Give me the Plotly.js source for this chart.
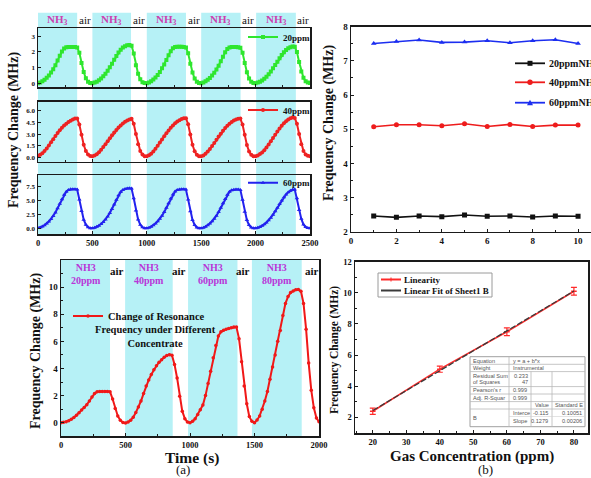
<!DOCTYPE html>
<html><head><meta charset="utf-8">
<script src="https://cdn.plot.ly/plotly-3.0.1.min.js"></script>
<style>html,body{margin:0;padding:0;background:#fff;overflow:hidden}#c{width:591px;height:478px}</style>
</head><body><div id="c"></div>
<script>
// ---------------- DATA ----------------
// Top-left: repeated NH3 exposure, time (s)
const tTop = [
0,20,40,60,80,100,120,140,160,180,200,220,240,260,280,300,320,340,360,380,400,420,440,460,480,
500,520,540,560,580,600,620,640,660,680,700,720,740,760,780,800,820,840,860,880,900,920,940,960,980,
1000,1020,1040,1060,1080,1100,1120,1140,1160,1180,1200,1220,1240,1260,1280,1300,1320,1340,1360,1380,1400,1420,1440,1460,1480,
1500,1520,1540,1560,1580,1600,1620,1640,1660,1680,1700,1720,1740,1760,1780,1800,1820,1840,1860,1880,1900,1920,1940,1960,1980,
2000,2020,2040,2060,2080,2100,2120,2140,2160,2180,2200,2220,2240,2260,2280,2300,2320,2340,2360,2380,2400,2420,2440,2460,2480,
2500];
const f20ppm = [
0.00,0.05,0.12,0.22,0.35,0.50,0.68,0.90,1.15,1.45,1.75,2.02,2.22,2.30,2.32,2.32,2.32,2.31,2.28,1.95,1.30,0.72,0.32,0.10,0.02,
0.00,0.04,0.10,0.19,0.30,0.44,0.60,0.80,1.02,1.25,1.50,1.74,1.96,2.14,2.28,2.37,2.42,2.44,2.40,1.90,1.15,0.60,0.25,0.07,0.01,
0.00,0.05,0.13,0.24,0.37,0.53,0.72,0.95,1.20,1.48,1.78,2.05,2.24,2.31,2.33,2.33,2.33,2.32,2.28,1.92,1.25,0.68,0.30,0.09,0.02,
0.00,0.05,0.12,0.22,0.34,0.49,0.67,0.88,1.12,1.40,1.70,1.98,2.19,2.29,2.31,2.31,2.31,2.30,2.27,1.95,1.30,0.70,0.31,0.10,0.02,
0.00,0.04,0.10,0.18,0.29,0.42,0.57,0.75,0.95,1.16,1.38,1.60,1.80,1.98,2.12,2.23,2.30,2.34,2.33,2.00,1.35,0.75,0.35,0.12,0.04,
0.01];
const f40ppm = [
0.25,0.38,0.58,0.85,1.18,1.55,1.95,2.35,2.75,3.12,3.48,3.80,4.08,4.32,4.52,4.70,4.85,4.96,4.98,4.20,2.90,1.65,0.85,0.40,0.22,
0.18,0.28,0.45,0.70,1.00,1.35,1.72,2.10,2.48,2.85,3.20,3.53,3.83,4.10,4.34,4.55,4.72,4.86,4.95,4.30,3.00,1.70,0.85,0.40,0.20,
0.20,0.32,0.52,0.80,1.14,1.52,1.92,2.32,2.72,3.10,3.46,3.80,4.10,4.36,4.58,4.76,4.90,4.99,5.00,4.25,2.95,1.65,0.82,0.38,0.20,
0.18,0.30,0.50,0.78,1.10,1.48,1.88,2.28,2.68,3.05,3.42,3.76,4.06,4.32,4.54,4.72,4.86,4.95,4.96,4.20,2.90,1.62,0.80,0.38,0.20,
0.20,0.30,0.46,0.68,0.96,1.30,1.68,2.08,2.50,2.92,3.32,3.70,4.05,4.36,4.62,4.84,5.00,5.10,5.05,4.30,3.00,1.70,0.85,0.42,0.25,
0.18];
const f60ppm = [
0.05,0.15,0.32,0.55,0.85,1.22,1.68,2.22,2.85,3.60,4.40,5.25,6.05,6.60,6.90,7.02,7.05,7.05,7.00,5.20,3.10,1.55,0.65,0.20,0.02,
0.00,0.10,0.26,0.48,0.78,1.15,1.60,2.12,2.75,3.48,4.30,5.15,5.95,6.55,6.92,7.10,7.18,7.20,7.15,5.40,3.20,1.60,0.65,0.18,0.00,
0.00,0.12,0.30,0.54,0.86,1.25,1.72,2.28,2.94,3.70,4.52,5.35,6.10,6.62,6.90,7.00,7.03,7.03,6.98,5.20,3.05,1.50,0.60,0.16,0.00,
0.00,0.12,0.30,0.54,0.86,1.25,1.72,2.28,2.94,3.70,4.50,5.30,6.05,6.58,6.85,6.95,6.97,6.97,6.92,5.15,3.00,1.48,0.58,0.15,0.00,
0.00,0.10,0.25,0.45,0.72,1.05,1.45,1.92,2.46,3.06,3.70,4.36,5.00,5.58,6.08,6.48,6.78,6.95,6.98,5.40,3.30,1.70,0.70,0.22,0.05,
0.02];
const topBandStart = [0,500,1000,1500,2005];
const topBandEnd   = [360,855,1360,1862,2370];
const topGasX = [180,678,1180,1681,2188];
const topAirX = [430,928,1430,1931,2435];
const topTicks = [0,500,1000,1500,2000,2500];

// Top-right: stability over days
const days = [1,2,3,4,5,6,7,8,9,10];
const st20 = [2.46,2.42,2.46,2.44,2.49,2.45,2.46,2.43,2.46,2.45];
const st40 = [5.07,5.13,5.13,5.10,5.16,5.08,5.14,5.08,5.12,5.12];
const st60 = [7.51,7.57,7.61,7.54,7.55,7.59,7.53,7.59,7.62,7.51];
const stNames = ['20ppmNH3','40ppmNH3','60ppmNH3'];

// Bottom-left (a): different concentrations
const tA = [
0,20,40,60,80,100,120,140,160,180,200,220,240,260,280,300,320,340,360,380,400,420,440,460,480,
500,520,540,560,580,600,620,640,660,680,700,720,740,760,780,800,820,840,860,880,900,920,940,960,980,
1000,1020,1040,1060,1080,1100,1120,1140,1160,1180,1200,1220,1240,1260,1280,1300,1320,1340,1360,1380,1400,1420,1440,1460,1480,
1500,1520,1540,1560,1580,1600,1620,1640,1660,1680,1700,1720,1740,1760,1780,1800,1820,1840,1860,1880,1900,1920,1940,1960,1980,
2000];
const fA = [
0.00,0.03,0.08,0.15,0.25,0.38,0.55,0.73,0.93,1.13,1.33,1.60,1.90,2.15,2.28,2.30,2.31,2.31,2.30,2.28,1.75,1.05,0.50,0.18,0.02,
-0.02,0.05,0.18,0.40,0.75,1.15,1.60,2.15,2.70,3.15,3.55,3.90,4.20,4.45,4.65,4.82,4.95,5.02,4.98,4.30,3.30,1.95,0.85,0.30,0.05,
0.00,0.10,0.30,0.60,0.95,1.30,2.00,2.90,3.80,4.80,5.70,6.40,6.70,6.82,6.90,6.95,7.00,7.05,7.05,6.20,4.50,2.70,1.40,0.45,0.10,
0.00,0.20,0.50,1.00,1.60,2.30,3.20,4.10,5.00,6.00,6.80,7.90,8.80,9.30,9.60,9.72,9.80,9.82,9.70,8.80,6.90,4.40,2.40,1.10,0.35,
0.08];
const aBandStart = [0,497,985,1480];
const aBandEnd   = [380,866,1368,1866];
const aGasLabels = ['NH3<br>20ppm','NH3<br>40ppm','NH3<br>60ppm','NH3<br>80ppm'];
const aAirX = [432,915,1413,1943];

// Bottom-right (b): linearity
const conc = [20,40,60,80];
const linY = [2.40,5.10,7.50,10.10];
const linErr = [0.20,0.20,0.25,0.25];
const fitX = [20,80];
const fitY = [2.443,10.117];

// ---------------- LAYOUT HELPERS ----------------
const W=591,H=478;
const X = p => p/W, Y = p => 1 - p/H;
const SERIF = 'Liberation Serif, Times New Roman, serif';
const SANS = 'Liberation Sans, Arial, sans-serif';
const CYAN = '#b6f1f6';
const MAG = '#cc3fb0';
const PURP = '#b936d8';
const bf = (s)=>({family:SERIF,size:s,color:'#111',weight:'bold'});

function ax(o){
  return Object.assign({showgrid:false,zeroline:false,showline:true,linecolor:'#1a1a1a',linewidth:1.5,
    mirror:true,ticks:'inside',ticklen:3,tickwidth:1,tickcolor:'#1a1a1a',fixedrange:true},o);
}

const traces = [];
traces.push({x:tTop,y:f20ppm,xaxis:'x',yaxis:'y',name:'20ppm',legend:'legend',mode:'lines+markers',
  line:{color:'#2ee62e',width:2},marker:{color:'#2ee62e',size:4,symbol:'square'}});
traces.push({x:tTop,y:f40ppm,xaxis:'x2',yaxis:'y2',name:'40ppm',legend:'legend2',mode:'lines+markers',
  line:{color:'#ee2222',width:2},marker:{color:'#ee2222',size:4,symbol:'circle'}});
traces.push({x:tTop,y:f60ppm,xaxis:'x3',yaxis:'y3',name:'60ppm',legend:'legend3',mode:'lines+markers',
  line:{color:'#2222ee',width:2},marker:{color:'#2222ee',size:4,symbol:'triangle-up'}});

const stCol = ['#111111','#ee1c1c','#1c2ef0'];
const stSym = ['square','circle','triangle-up'];
[st20,st40,st60].forEach((s,i)=>traces.push({x:days,y:s,xaxis:'x4',yaxis:'y4',name:stNames[i],showlegend:false,
  mode:'lines+markers',line:{color:stCol[i],width:1.6},marker:{color:stCol[i],size:5,symbol:stSym[i]}}));

traces.push({x:tA,y:fA,xaxis:'x5',yaxis:'y5',name:'Change of Resonance',legend:'legend5',mode:'lines+markers',
  line:{color:'#f01818',width:2},marker:{color:'#f01818',size:3.5,symbol:'circle'}});

traces.push({x:conc,y:linY,xaxis:'x6',yaxis:'y6',name:'Linearity',showlegend:false,mode:'lines+markers',
  line:{color:'#ff2a2a',width:1.6},marker:{color:'#ff2a2a',size:4,symbol:'line-ew-open',line:{width:1.5,color:'#ff2a2a'}},
  error_y:{type:'data',array:linErr,visible:true,color:'#ff2a2a',thickness:1.2,width:3}});
traces.push({x:fitX,y:fitY,xaxis:'x6',yaxis:'y6',name:'Linear Fit of Sheet1 B',showlegend:false,mode:'lines',
  line:{color:'#3a3a3a',width:1.3,dash:'6px,2px'}});

const shapes = [];
topBandStart.forEach((s,i)=>shapes.push({type:'rect',xref:'x',yref:'paper',x0:s,x1:topBandEnd[i],y0:Y(234.3),y1:Y(12.7),
  fillcolor:CYAN,line:{width:0},layer:'below'}));
aBandStart.forEach((s,i)=>shapes.push({type:'rect',xref:'x5',yref:'y5 domain',x0:s,x1:aBandEnd[i],y0:0,y1:1,
  fillcolor:CYAN,line:{width:0},layer:'below'}));

const ann = [];
function A(o){ann.push(Object.assign({xref:'paper',yref:'paper',showarrow:false,xanchor:'center',yanchor:'middle'},o));}

// header labels top-left
topGasX.forEach(x=>ann.push({xref:'x',yref:'paper',x:x,y:Y(20),text:'NH<sub>3</sub>',showarrow:false,xanchor:'center',yanchor:'middle',
  font:{family:SERIF,size:11,color:MAG,weight:'bold'}}));
topAirX.forEach(x=>ann.push({xref:'x',yref:'paper',x:x,y:Y(20),text:'air',showarrow:false,xanchor:'center',yanchor:'middle',
  font:{family:SERIF,size:11,color:'#111'}}));
// header labels (a)
aBandStart.forEach((s,i)=>ann.push({xref:'x5',yref:'paper',x:(s+aBandEnd[i])/2,y:Y(273.5),text:aGasLabels[i],showarrow:false,
  xanchor:'center',yanchor:'middle',font:{family:SERIF,size:10,color:PURP,weight:'bold'}}));
aAirX.forEach(x=>ann.push({xref:'x5',yref:'paper',x:x,y:Y(271),text:'air',showarrow:false,xanchor:'center',yanchor:'middle',
  font:{family:SERIF,size:11,color:'#111',weight:'bold'}}));

// titles
A({x:X(14),y:Y(130),text:'Frequency Change (MHz)',textangle:-90,font:bf(14)});
A({x:X(329),y:Y(123),text:'Frequency Change (MHz)',textangle:-90,font:bf(14)});
A({x:X(36),y:Y(351),text:'Frequency Change (MHz)',textangle:-90,font:bf(14)});
A({x:X(334),y:Y(350),text:'Frequency Change (MHz)',textangle:-90,font:bf(11.5)});
A({x:X(192),y:Y(458),text:'Time (s)',font:bf(15.5)});
A({x:X(183),y:Y(469.5),text:'(a)',font:{family:SERIF,size:13,color:'#111'}});
A({x:X(472),y:Y(456),text:'Gas Concentration (ppm)',font:bf(15)});
A({x:X(485),y:Y(469.5),text:'(b)',font:{family:SERIF,size:13,color:'#111'}});
// (a) legend continuation
A({x:X(155),y:Y(336.5),text:'Frequency under Different<br>Concentrate',align:'center',font:bf(10.5)});

// top-right legend (manual; cut by the right edge as in the reference)
const legRows = [63.3,82.3,102.7];
legRows.forEach((yy,i)=>{
  shapes.push({type:'line',xref:'paper',yref:'paper',x0:X(515),x1:X(545),y0:Y(yy),y1:Y(yy),line:{color:stCol[i],width:1.8}});
  A({x:X(547),y:Y(yy),xanchor:'left',text:stNames[i],font:bf(10)});
});
shapes.push({type:'rect',xref:'paper',yref:'paper',x0:X(527.5),x1:X(532.5),y0:Y(legRows[0]+2.5),y1:Y(legRows[0]-2.5),fillcolor:stCol[0],line:{width:0}});
shapes.push({type:'circle',xref:'paper',yref:'paper',x0:X(527.3),x1:X(532.7),y0:Y(legRows[1]+2.7),y1:Y(legRows[1]-2.7),fillcolor:stCol[1],line:{width:0}});
shapes.push({type:'path',xref:'paper',yref:'paper',
  path:`M ${X(527)} ${Y(legRows[2]+2.5)} L ${X(533)} ${Y(legRows[2]+2.5)} L ${X(530)} ${Y(legRows[2]-3)} Z`,fillcolor:stCol[2],line:{width:0}});

// (b) legend (manual box)
shapes.push({type:'rect',xref:'paper',yref:'paper',x0:X(378),x1:X(492),y0:Y(297),y1:Y(273),line:{color:'#9a9a9a',width:1},fillcolor:'rgba(255,255,255,0.6)'});
shapes.push({type:'line',xref:'paper',yref:'paper',x0:X(381),x1:X(401),y0:Y(279.5),y1:Y(279.5),line:{color:'#ff2a2a',width:2}});
shapes.push({type:'line',xref:'paper',yref:'paper',x0:X(391),x1:X(391),y0:Y(277.5),y1:Y(281.5),line:{color:'#ff2a2a',width:1}});
shapes.push({type:'line',xref:'paper',yref:'paper',x0:X(381),x1:X(401),y0:Y(290.5),y1:Y(290.5),line:{color:'#3a3a3a',width:2}});
A({x:X(402),y:Y(279.5),xanchor:'left',text:'Linearity',font:bf(9)});
A({x:X(402),y:Y(290.5),xanchor:'left',text:'Linear Fit of Sheet1 B',font:bf(9)});

// (b) fit table
const TL=470,TR=585,TT=356.7,TB=426.7;
shapes.push({type:'rect',xref:'paper',yref:'paper',x0:X(TL),x1:X(TR),y0:Y(TB),y1:Y(TT),line:{color:'#a0a0a0',width:1},fillcolor:'#ffffff'});
[364.3,371.6,386.6,394,401.6,409].forEach(yy=>shapes.push({type:'line',xref:'paper',yref:'paper',x0:X(TL),x1:X(TR),y0:Y(yy),y1:Y(yy),line:{color:'#b8b8b8',width:0.8}}));
shapes.push({type:'line',xref:'paper',yref:'paper',x0:X(509),x1:X(509),y0:Y(TT),y1:Y(TB),line:{color:'#b8b8b8',width:0.8}});
shapes.push({type:'line',xref:'paper',yref:'paper',x0:X(531),x1:X(531),y0:Y(371.6),y1:Y(TB),line:{color:'#b8b8b8',width:0.8}});
shapes.push({type:'line',xref:'paper',yref:'paper',x0:X(552),x1:X(552),y0:Y(371.6),y1:Y(TB),line:{color:'#b8b8b8',width:0.8}});
shapes.push({type:'line',xref:'paper',yref:'paper',x0:X(509),x1:X(TR),y0:Y(416.5),y1:Y(416.5),line:{color:'#d0d0d0',width:0.6}});
const tf = {family:SANS,size:5.6,color:'#555'};
function T(x,y,t,anchor){A({x:X(x),y:Y(y),xanchor:anchor||'left',text:t,font:tf});}
T(471,360.5,'Equation'); T(511,360.5,'y = a + b*x');
T(471,368,'Weight'); T(511,368,'Instrumental');
T(471,375.5,'Residual Sum'); T(471,382,'of Squares'); T(530,375.5,'0.233','right'); T(530,382,'47','right');
T(471,390,"Pearson's r"); T(511,390,'0.999');
T(471,397.5,'Adj. R-Squar'); T(511,397.5,'0.999');
T(533,405,'Value'); T(553,405,'Standard E');
T(471,418,'B'); T(511,412.8,'Interce'); T(550,412.8,'-0.115','right'); T(584,412.8,'0.10051','right');
T(511,420.5,'Slope'); T(550,420.5,'0.1279','right'); T(584,420.5,'0.00206','right');

const tickTL = {family:SERIF,size:7,color:'#111',weight:'bold'};
const tick9 = bf(9);

const legBase = {bgcolor:'rgba(0,0,0,0)',borderwidth:0,itemwidth:30,itemclick:false,itemdoubleclick:false};
const layout = {
  width:W,height:H,margin:{l:0,r:0,t:0,b:0,autoexpand:false},paper_bgcolor:'#fff',plot_bgcolor:'rgba(0,0,0,0)',
  showlegend:true,
  xaxis: ax({domain:[X(38),X(310)],range:[0,2500],anchor:'y',tickvals:topTicks,showticklabels:false,minor:{ticks:'inside',ticklen:2,dtick:250}}),
  yaxis: ax({domain:[Y(87.3),Y(28.3)],range:[-0.26,3.51],anchor:'x',tickvals:[0,1,2,3],tickfont:tickTL}),
  xaxis2: ax({domain:[X(38),X(310)],range:[0,2500],anchor:'y2',tickvals:topTicks,showticklabels:false,minor:{ticks:'inside',ticklen:2,dtick:250}}),
  yaxis2: ax({domain:[Y(161.7),Y(101.7)],range:[-0.5,7.1],anchor:'x2',tickvals:[0,1.5,3,4.5,6],tickformat:'.1f',tickfont:tickTL}),
  xaxis3: ax({domain:[X(38),X(310)],range:[0,2500],anchor:'y3',tickvals:topTicks,tickfont:bf(8.5),minor:{ticks:'inside',ticklen:2,dtick:250}}),
  yaxis3: ax({domain:[Y(234.3),Y(175)],range:[-1.08,9.6],anchor:'x3',tickvals:[0,2.5,5,7.5],tickformat:'.1f',tickfont:tickTL}),
  xaxis4: ax({domain:[X(351),1],range:[0,10.57],anchor:'y4',tickvals:[0,2,4,6,8,10],tickfont:tick9,minor:{ticks:'inside',ticklen:2,dtick:1}}),
  yaxis4: ax({domain:[Y(231.7),Y(26.7)],range:[2,8],anchor:'x4',mirror:false,tickvals:[2,3,4,5,6,7,8],tickfont:tick9,minor:{ticks:'inside',ticklen:2,dtick:0.5}}),
  xaxis5: ax({domain:[X(61),X(319)],range:[0,2000],anchor:'y5',tickvals:[0,500,1000,1500,2000],tickfont:bf(8.5),minor:{ticks:'inside',ticklen:2,dtick:250}}),
  yaxis5: ax({domain:[Y(436),Y(260)],range:[-0.98,12],anchor:'x5',tickvals:[0,2,4,6,8,10],tickfont:tick9,minor:{ticks:'inside',ticklen:2,dtick:1}}),
  xaxis6: ax({domain:[X(355),X(588)],range:[14.7,84.2],anchor:'y6',tickvals:[20,30,40,50,60,70,80],tickfont:bf(8.5),minor:{ticks:'inside',ticklen:2,dtick:5}}),
  yaxis6: ax({domain:[Y(433),Y(261.7)],range:[1,12],anchor:'x6',tickvals:[2,4,6,8,10,12],tickfont:bf(8.5),minor:{ticks:'inside',ticklen:2,dtick:1}}),
  legend: Object.assign({},legBase,{x:X(243),y:Y(37),xanchor:'left',yanchor:'middle',font:bf(9)}),
  legend2: Object.assign({},legBase,{x:X(243),y:Y(110),xanchor:'left',yanchor:'middle',font:bf(9)}),
  legend3: Object.assign({},legBase,{x:X(243),y:Y(182.7),xanchor:'left',yanchor:'middle',font:bf(9)}),
  legend5: Object.assign({},legBase,{x:X(68),y:Y(316),xanchor:'left',yanchor:'middle',font:bf(10.5),itemwidth:30}),
  shapes:shapes, annotations:ann
};
Plotly.newPlot('c',traces,layout,{displayModeBar:false,staticPlot:true});
</script></body></html>
